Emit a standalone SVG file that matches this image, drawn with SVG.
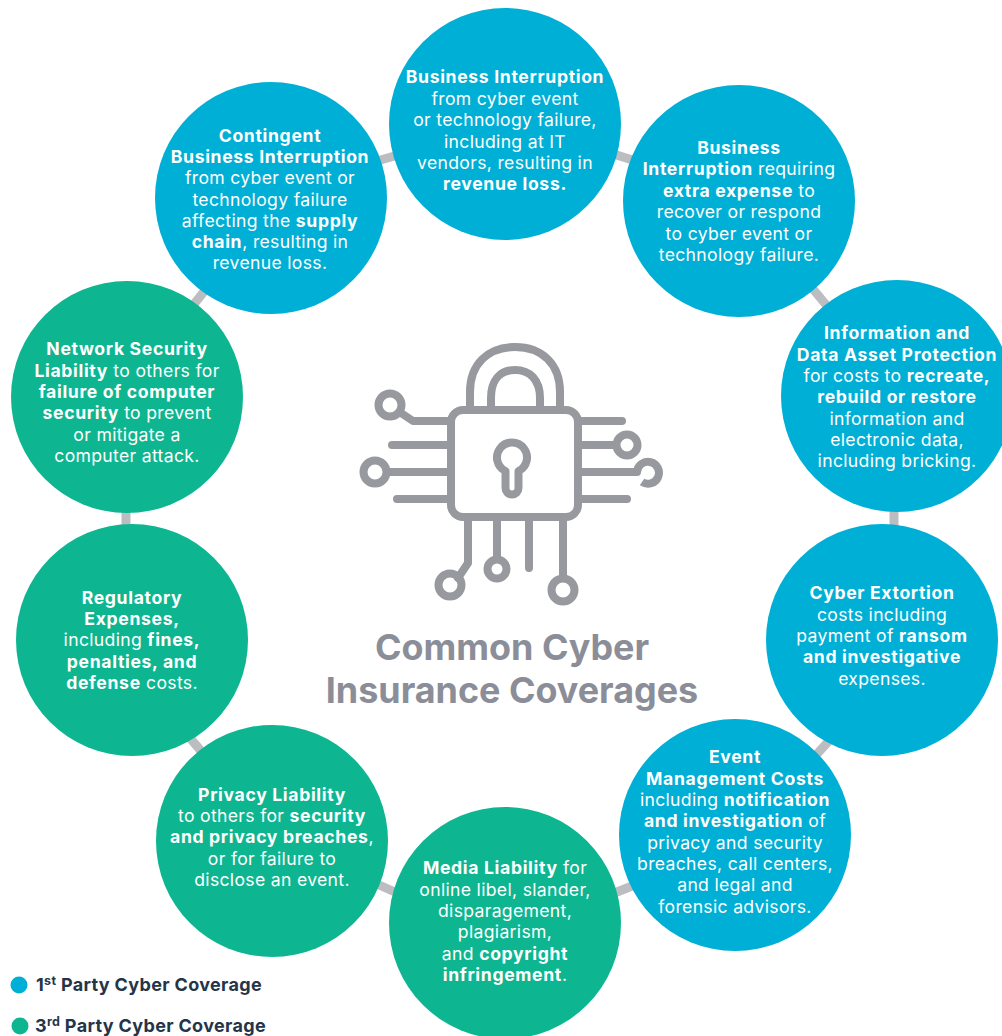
<svg xmlns="http://www.w3.org/2000/svg" width="1002" height="1036" viewBox="0 0 1002 1036">
<style>
text{font-family:"Inter","Liberation Sans",sans-serif}
.n text{font-size:17.6px;letter-spacing:.32px;fill:#fff;text-anchor:middle}
.n text .b,.n .b{font-weight:700;letter-spacing:.66px}
.blue{fill:#00afd5}.green{fill:#0db690}
.c{stroke:#bcbdc0;stroke-width:9;fill:none}
.i{fill:none;stroke:#97999e;stroke-width:8;stroke-linecap:round;stroke-linejoin:round}
.t{font-size:35.900px;font-weight:700;fill:#8b8e98;text-anchor:middle}
.l{font-size:18px;letter-spacing:.33px;font-weight:700;fill:#253549}
.s{font-size:12.500px}
</style>
<rect width="1002" height="1036" fill="#fff"/>
<g id="connectors">
<path class="c" d="M370 163L405 153M607 152L642 163M808 283L832 312M894 500V536M836 733L808 764M642 882L607 896M404 896L370 881M207 758L184 731M126 500V536M187 313L210 284"/>
</g>
<g id="icon">
<path class="i" d="M470 408V392C470 364 488 347 515 347C542 347 560 364 560 392V408M491 408V398C491 380 500 370 515 370C530 370 540 380 540 398V408"/>
<rect class="i" x="451" y="410" width="127" height="107" rx="12"/>
<path class="i" d="M505.500 471A15 15 0 1 1 518.500 471V488A6.500 6.500 0 0 1 505.500 488Z"/>
<circle class="i" cx="390" cy="405" r="11.500"/>
<path class="i" d="M401 413L413 421H447M392 445H447M387 472H447M397 499H447"/>
<circle class="i" cx="375" cy="472" r="11.500"/>
<path class="i" d="M581 421H622M581 445H616M581 472H637M581 499H627"/>
<circle class="i" cx="627" cy="445" r="10.500"/>
<path class="i" d="M637 472A11 11 0 1 1 642 482" style="stroke-linecap:butt"/>
<path class="i" d="M468 520V563L458 578M497 520V559M529 520V568M563 520V578"/>
<circle class="i" cx="450" cy="585" r="11.500"/>
<circle class="i" cx="497" cy="569" r="9.500"/>
<circle class="i" cx="563" cy="590" r="11.500"/>
</g>
<g id="title">
<text class="t" x="512" y="660">Common Cyber</text>
<text class="t" x="512" y="703">Insurance Coverages</text>
</g>
<g id="n1" class="n"><circle class="blue" cx="505" cy="124" r="116"/>
<text x="505" y="83"><tspan class="b">Business Interruption</tspan></text>
<text x="505" y="104.500">from cyber event</text>
<text x="505" y="126">or technology failure,</text>
<text x="505" y="147.500">including at IT</text>
<text x="505" y="169">vendors, resulting in</text>
<text x="505" y="190"><tspan class="b">revenue loss.</tspan></text>
</g>
<g id="n2" class="n"><circle class="blue" cx="739" cy="201" r="116"/>
<text x="739" y="154"><tspan class="b">Business</tspan></text>
<text x="739" y="175"><tspan class="b">Interruption</tspan> requiring</text>
<text x="739" y="196.500"><tspan class="b">extra expense</tspan> to</text>
<text x="739" y="218">recover or respond</text>
<text x="739" y="239.500">to cyber event or</text>
<text x="739" y="260.500">technology failure.</text>
</g>
<g id="n3" class="n"><circle class="blue" cx="897" cy="396" r="116"/>
<text x="897" y="339"><tspan class="b">Information and</tspan></text>
<text x="897" y="360.500"><tspan class="b">Data Asset Protection</tspan></text>
<text x="897" y="382">for costs to <tspan class="b">recreate,</tspan></text>
<text x="897" y="403"><tspan class="b">rebuild or restore</tspan></text>
<text x="897" y="424.500">information and</text>
<text x="897" y="446">electronic data,</text>
<text x="897" y="467">including bricking.</text>
</g>
<g id="n4" class="n"><circle class="blue" cx="882" cy="640" r="116"/>
<text x="882" y="599"><tspan class="b">Cyber Extortion</tspan></text>
<text x="882" y="620.500">costs including</text>
<text x="882" y="642">payment of <tspan class="b">ransom</tspan></text>
<text x="882" y="663"><tspan class="b">and investigative</tspan></text>
<text x="882" y="684.500">expenses.</text>
</g>
<g id="n5" class="n"><circle class="blue" cx="735" cy="835" r="116"/>
<text x="735" y="763"><tspan class="b">Event</tspan></text>
<text x="735" y="784.500"><tspan class="b">Management Costs</tspan></text>
<text x="735" y="806">including <tspan class="b">notification</tspan></text>
<text x="735" y="827"><tspan class="b">and investigation</tspan> of</text>
<text x="735" y="848.500">privacy and security</text>
<text x="735" y="870">breaches, call centers,</text>
<text x="735" y="891">and legal and</text>
<text x="735" y="912.500">forensic advisors.</text>
</g>
<g id="n6" class="n"><circle class="green" cx="505" cy="923" r="116"/>
<text x="505" y="874"><tspan class="b">Media Liability</tspan> for</text>
<text x="505" y="895.500">online libel, slander,</text>
<text x="505" y="917">disparagement,</text>
<text x="505" y="938">plagiarism,</text>
<text x="505" y="959.500">and <tspan class="b">copyright</tspan></text>
<text x="505" y="981"><tspan class="b">infringement</tspan>.</text>
</g>
<g id="n7" class="n"><circle class="green" cx="272" cy="841" r="116"/>
<text x="272" y="801"><tspan class="b">Privacy Liability</tspan></text>
<text x="272" y="822">to others for <tspan class="b">security</tspan></text>
<text x="272" y="843"><tspan class="b">and privacy breaches</tspan>,</text>
<text x="272" y="865">or for failure to</text>
<text x="272" y="886">disclose an event.</text>
</g>
<g id="n8" class="n"><circle class="green" cx="132" cy="640" r="116"/>
<text x="132" y="604"><tspan class="b">Regulatory</tspan></text>
<text x="132" y="625"><tspan class="b">Expenses,</tspan></text>
<text x="132" y="646">including <tspan class="b">fines,</tspan></text>
<text x="132" y="668"><tspan class="b">penalties, and</tspan></text>
<text x="132" y="689"><tspan class="b">defense</tspan> costs.</text>
</g>
<g id="n9" class="n"><circle class="green" cx="127" cy="397" r="116"/>
<text x="127" y="355"><tspan class="b">Network Security</tspan></text>
<text x="127" y="376.500"><tspan class="b">Liability</tspan> to others for</text>
<text x="127" y="398"><tspan class="b">failure of computer</tspan></text>
<text x="127" y="419"><tspan class="b">security</tspan> to prevent</text>
<text x="127" y="440.500">or mitigate a</text>
<text x="127" y="462">computer attack.</text>
</g>
<g id="n10" class="n"><circle class="blue" cx="271" cy="198" r="116"/>
<text x="270" y="142"><tspan class="b">Contingent</tspan></text>
<text x="270" y="163"><tspan class="b">Business Interruption</tspan></text>
<text x="270" y="184">from cyber event or</text>
<text x="270" y="206">technology failure</text>
<text x="270" y="227">affecting the <tspan class="b">supply</tspan></text>
<text x="270" y="248"><tspan class="b">chain</tspan>, resulting in</text>
<text x="270" y="269">revenue loss.</text>
</g>
<g id="legend1"><circle class="blue" cx="19" cy="985" r="8.500"/>
<text class="l" x="36" y="991">1<tspan class="s" dy="-6">st</tspan><tspan dy="6"> Party Cyber Coverage</tspan></text></g>
<g id="legend2"><circle class="green" cx="20" cy="1026" r="8.500"/>
<text class="l" x="35" y="1032">3<tspan class="s" dy="-6">rd</tspan><tspan dy="6"> Party Cyber Coverage</tspan></text></g>
</svg>
